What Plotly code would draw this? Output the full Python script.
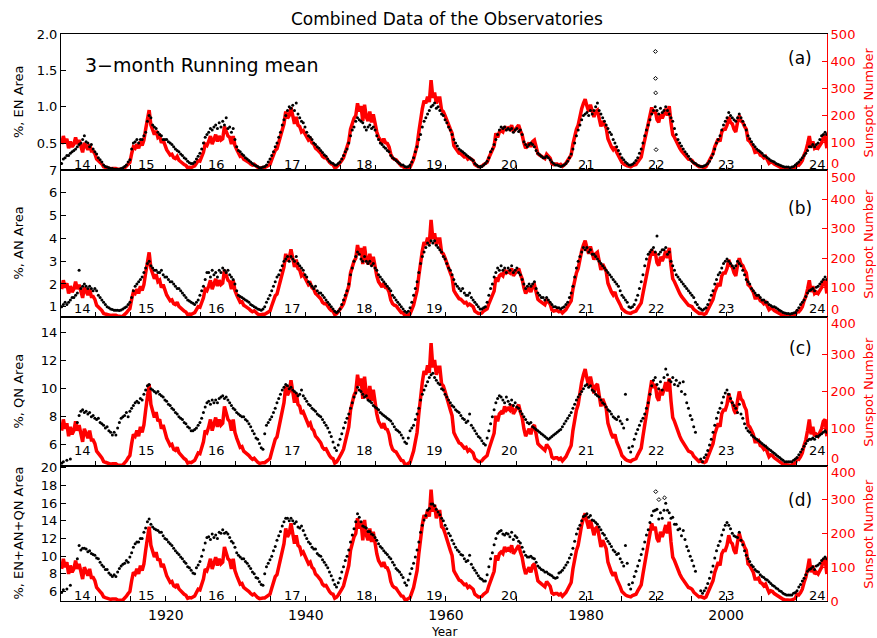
import plotly.graph_objects as go

START_YEAR = 1905

# Sunspot number, 3-month running mean, sampled quarterly (1905.0 -> 2014.5)
sunspot = [
    95, 125, 100, 115, 80, 105, 85, 95,          # 1905-1906
    120, 95, 110, 85, 65, 100, 85, 75,           # 1907-1908
    95, 70, 70, 60, 40, 32, 28, 22,              # 1909-1910
    12, 10, 8, 7, 5, 6, 7, 6,                    # 1911-1912
    3, 2, 2, 3, 8, 14, 22, 28,                   # 1913-1914
    60, 85, 80, 95, 80, 105, 90, 110,            # 1915-1916
    150, 180, 220, 165, 150, 130, 145, 120,      # 1917-1918
    125, 100, 110, 90, 75, 65, 55, 58,           # 1919-1920
    45, 42, 50, 36, 30, 26, 20, 17,              # 1921-1922
    8, 10, 9, 12, 15, 25, 35, 33,                # 1923-1924
    50, 65, 95, 90, 105, 125, 95, 115,           # 1925-1926
    130, 105, 125, 110, 115, 160, 140, 125,      # 1927-1928
    120, 95, 125, 90, 75, 60, 50, 52,            # 1929-1930
    40, 36, 33, 28, 22, 18, 21, 14,              # 1931-1932
    10, 7, 9, 9, 9, 12, 15, 20,                  # 1933-1934
    38, 55, 72, 78, 100, 125, 145, 170,          # 1935-1936
    215, 190, 200, 230, 200, 170, 195, 165,      # 1937-1938
    160, 140, 145, 135, 125, 110, 115, 100,      # 1939-1940
    95, 80, 75, 68, 62, 50, 45, 46,              # 1941-1942
    35, 28, 22, 20, 8, 11, 18, 25,               # 1943-1944
    35, 45, 65, 75, 105, 150, 175, 190,          # 1945-1946
    200, 245, 215, 235, 180, 240, 195, 180,      # 1947-1948
    215, 175, 205, 170, 140, 120, 110, 102,      # 1949-1950
    115, 100, 98, 85, 58, 45, 40, 38,            # 1951-1952
    30, 20, 15, 14, 5, 4, 7, 10,                 # 1953-1954
    25, 40, 65, 90, 140, 190, 225, 255,          # 1955-1956
    245, 270, 250, 330, 265, 285, 245, 265,      # 1957-1958
    265, 220, 215, 200, 180, 165, 150, 135,      # 1959-1960
    90, 80, 72, 62, 60, 55, 48, 50,              # 1961-1962
    40, 44, 38, 35, 20, 15, 12, 12,              # 1963-1964
    14, 20, 24, 28, 45, 60, 78, 88,              # 1965-1966
    135, 120, 140, 145, 140, 160, 150, 155,      # 1967-1968
    150, 165, 140, 150, 155, 165, 145, 130,      # 1969-1970
    100, 80, 90, 100, 85, 105, 110, 90,          # 1971-1972
    60, 55, 50, 48, 42, 58, 52, 44,              # 1973-1974
    24, 20, 22, 22, 18, 21, 14, 18,              # 1975-1976
    25, 35, 45, 55, 95, 125, 150, 165,           # 1977-1978
    205, 225, 245, 260, 235, 215, 240, 210,      # 1979-1980
    195, 215, 220, 190, 160, 180, 165, 155,      # 1981-1982
    115, 95, 85, 75, 85, 65, 50, 42,             # 1983-1984
    28, 22, 18, 15, 14, 12, 16, 18,              # 1985-1986
    20, 30, 38, 48, 80, 110, 140, 165,           # 1987-1988
    205, 230, 210, 220, 185, 175, 205, 190,      # 1989-1990
    205, 225, 200, 235, 175, 130, 120, 105,      # 1991-1992
    95, 80, 70, 62, 55, 45, 40, 38,              # 1993-1994
    35, 26, 22, 18, 12, 13, 12, 9,               # 1995-1996
    12, 24, 35, 45, 60, 85, 100, 115,            # 1997-1998
    105, 140, 150, 150, 165, 195, 175, 170,      # 1999-2000
    150, 140, 175, 200, 180, 175, 160, 150,      # 2001-2002
    110, 105, 95, 85, 65, 65, 68, 55,            # 2003-2004
    52, 45, 50, 38, 25, 30, 28, 22,              # 2005-2006
    18, 14, 10, 8, 5, 4, 3, 4,                   # 2007-2008
    2, 3, 6, 8, 20, 18, 25, 35,                  # 2009-2010
    55, 70, 95, 125, 85, 105, 80, 85,            # 2011-2012
    80, 90, 100, 120, 125, 80,                   # 2013-2014
]

# EN area (%), 3-month running mean, quarterly
en_area = [
    0.22, 0.28, 0.30, 0.33, 0.33, 0.36, 0.38, 0.40,   # 1905-1906
    0.42, 0.45, 0.48, 0.50, 0.55, 0.60, 0.52, 0.50,   # 1907-1908
    0.45, 0.48, 0.42, 0.38, 0.35, 0.30, 0.27, 0.24,   # 1909-1910
    0.20, 0.18, 0.17, 0.16, 0.15, 0.15, 0.14, 0.14,   # 1911-1912
    0.14, 0.14, 0.15, 0.16, 0.18, 0.20, 0.24, 0.27,   # 1913-1914
    0.42, 0.50, 0.52, 0.55, 0.50, 0.55, 0.55, 0.60,   # 1915-1916
    0.65, 0.80, 0.88, 0.85, 0.75, 0.72, 0.70, 0.65,   # 1917-1918
    0.62, 0.60, 0.55, 0.55, 0.55, 0.52, 0.50, 0.48,   # 1919-1920
    0.45, 0.42, 0.40, 0.38, 0.35, 0.33, 0.30, 0.28,   # 1921-1922
    0.25, 0.23, 0.22, 0.22, 0.24, 0.28, 0.32, 0.36,   # 1923-1924
    0.42, 0.50, 0.58, 0.62, 0.65, 0.70, 0.68, 0.72,   # 1925-1926
    0.75, 0.70, 0.78, 0.72, 0.80, 0.75, 0.85, 0.70,   # 1927-1928
    0.72, 0.65, 0.70, 0.55, 0.45, 0.40, 0.38, 0.35,   # 1929-1930
    0.33, 0.30, 0.28, 0.26, 0.24, 0.22, 0.20, 0.19,   # 1931-1932
    0.18, 0.16, 0.16, 0.17, 0.18, 0.20, 0.24, 0.28,   # 1933-1934
    0.33, 0.38, 0.45, 0.50, 0.58, 0.65, 0.75, 0.82,   # 1935-1936
    0.88, 0.95, 1.00, 0.98, 1.02, 0.95, 1.05, 0.90,   # 1937-1938
    0.85, 0.80, 0.78, 0.72, 0.65, 0.60, 0.58, 0.55,   # 1939-1940
    0.50, 0.48, 0.45, 0.43, 0.40, 0.37, 0.34, 0.32,   # 1941-1942
    0.28, 0.25, 0.23, 0.22, 0.20, 0.20, 0.22, 0.24,   # 1943-1944
    0.28, 0.33, 0.38, 0.42, 0.50, 0.60, 0.68, 0.72,   # 1945-1946
    0.80, 0.85, 0.82, 0.80, 0.78, 0.72, 0.68, 0.72,   # 1947-1948
    0.75, 0.70, 0.72, 0.68, 0.60, 0.55, 0.50, 0.48,   # 1949-1950
    0.45, 0.43, 0.40, 0.38, 0.33, 0.30, 0.28, 0.26,   # 1951-1952
    0.24, 0.22, 0.20, 0.20, 0.18, 0.17, 0.18, 0.20,   # 1953-1954
    0.24, 0.30, 0.38, 0.45, 0.55, 0.62, 0.72, 0.80,   # 1955-1956
    0.85, 0.90, 0.95, 1.00, 1.02, 1.05, 0.98, 1.00,   # 1957-1958
    0.95, 0.90, 0.88, 0.82, 0.78, 0.72, 0.68, 0.62,   # 1959-1960
    0.55, 0.50, 0.46, 0.42, 0.40, 0.38, 0.36, 0.34,   # 1961-1962
    0.32, 0.30, 0.28, 0.26, 0.22, 0.20, 0.18, 0.17,   # 1963-1964
    0.18, 0.20, 0.22, 0.25, 0.30, 0.38, 0.42, 0.48,   # 1965-1966
    0.55, 0.62, 0.68, 0.72, 0.70, 0.72, 0.68, 0.70,   # 1967-1968
    0.68, 0.70, 0.65, 0.68, 0.70, 0.66, 0.68, 0.62,   # 1969-1970
    0.52, 0.48, 0.45, 0.48, 0.50, 0.48, 0.45, 0.40,   # 1971-1972
    0.36, 0.34, 0.32, 0.30, 0.30, 0.32, 0.30, 0.27,   # 1973-1974
    0.24, 0.22, 0.20, 0.20, 0.19, 0.18, 0.19, 0.20,   # 1975-1976
    0.22, 0.25, 0.30, 0.35, 0.42, 0.50, 0.60, 0.68,   # 1977-1978
    0.75, 0.82, 0.88, 0.90, 0.92, 0.88, 0.95, 0.90,   # 1979-1980
    0.95, 1.00, 1.05, 0.95, 0.90, 0.85, 0.80, 0.75,   # 1981-1982
    0.70, 0.65, 0.62, 0.55, 0.50, 0.45, 0.40, 0.35,   # 1983-1984
    0.30, 0.27, 0.24, 0.22, 0.20, 0.20, 0.21, 0.23,   # 1985-1986
    0.26, 0.30, 0.36, 0.42, 0.50, 0.60, 0.68, 0.75,   # 1987-1988
    0.82, 0.90, 0.95, 1.00, 0.95, 0.90, 0.98, 0.92,   # 1989-1990
    0.95, 1.00, 0.95, 0.90, 0.85, 0.80, 0.70, 0.62,   # 1991-1992
    0.55, 0.50, 0.46, 0.42, 0.38, 0.35, 0.32, 0.28,   # 1993-1994
    0.25, 0.23, 0.22, 0.20, 0.19, 0.18, 0.18, 0.19,   # 1995-1996
    0.20, 0.22, 0.25, 0.30, 0.35, 0.42, 0.50, 0.55,   # 1997-1998
    0.60, 0.68, 0.75, 0.80, 0.85, 0.92, 0.88, 0.85,   # 1999-2000
    0.82, 0.80, 0.85, 0.90, 0.85, 0.80, 0.75, 0.68,   # 2001-2002
    0.60, 0.56, 0.52, 0.48, 0.45, 0.42, 0.40, 0.38,   # 2003-2004
    0.36, 0.33, 0.32, 0.30, 0.28, 0.26, 0.25, 0.24,   # 2005-2006
    0.22, 0.21, 0.20, 0.19, 0.18, 0.17, 0.17, 0.17,   # 2007-2008
    0.16, 0.17, 0.18, 0.20, 0.22, 0.24, 0.27, 0.30,   # 2009-2010
    0.33, 0.36, 0.40, 0.45, 0.45, 0.48, 0.45, 0.48,   # 2011-2012
    0.50, 0.55, 0.60, 0.62, 0.65, 0.62,               # 2013-2014
]

# AN area (%), quarterly
an_area = [
    1.00, 1.10, 1.20, 1.10, 1.20, 1.30, 1.40, 1.40,   # 1905-1906
    1.50, 1.60, 2.60, 1.80, 1.90, 2.00, 1.90, 1.80,   # 1907-1908
    1.90, 1.80, 1.70, 1.80, 1.70, 1.50, 1.40, 1.30,   # 1909-1910
    1.20, 1.10, 1.00, 0.95, 0.90, 0.88, 0.85, 0.85,   # 1911-1912
    0.85, 0.84, 0.86, 0.90, 0.95, 1.00, 1.10, 1.20,   # 1913-1914
    1.40, 1.70, 1.90, 2.00, 2.10, 2.20, 2.30, 2.50,   # 1915-1916
    2.70, 2.90, 3.00, 2.80, 2.70, 2.60, 2.60, 2.50,   # 1917-1918
    2.50, 2.60, 2.40, 2.30, 2.30, 2.20, 2.10, 2.10,   # 1919-1920
    2.00, 1.90, 1.80, 1.80, 1.70, 1.60, 1.50, 1.40,   # 1921-1922
    1.30, 1.25, 1.20, 1.15, 1.10, 1.20, 1.30, 1.50,   # 1923-1924
    1.70, 1.90, 2.20, 2.50, 2.50, 2.30, 2.60, 2.40,   # 1925-1926
    2.50, 2.30, 2.60, 2.50, 2.70, 2.60, 2.50, 2.60,   # 1927-1928
    2.40, 2.30, 2.20, 2.00, 1.70, 1.50, 1.45, 1.40,   # 1929-1930
    1.35, 1.30, 1.25, 1.20, 1.10, 1.05, 1.00, 0.95,   # 1931-1932
    0.90, 0.88, 0.85, 0.90, 1.00, 1.20, 1.35, 1.50,   # 1933-1934
    1.70, 1.90, 2.10, 2.30, 2.40, 2.60, 2.80, 3.00,   # 1935-1936
    3.10, 3.20, 3.00, 3.20, 3.10, 3.00, 3.20, 2.90,   # 1937-1938
    2.80, 2.70, 2.60, 2.40, 2.30, 2.10, 2.00, 1.90,   # 1939-1940
    1.80, 1.90, 1.70, 1.60, 1.60, 1.50, 1.40, 1.30,   # 1941-1942
    1.20, 1.10, 1.00, 0.90, 0.80, 0.75, 0.80, 0.90,   # 1943-1944
    1.10, 1.30, 1.50, 1.70, 2.00, 2.40, 2.70, 3.00,   # 1945-1946
    3.20, 3.40, 3.30, 3.10, 3.00, 3.20, 3.00, 2.90,   # 1947-1948
    3.00, 2.80, 2.90, 2.70, 2.60, 2.40, 2.30, 2.20,   # 1949-1950
    2.10, 2.00, 1.90, 1.80, 1.70, 1.50, 1.40, 1.30,   # 1951-1952
    1.20, 1.10, 1.00, 0.90, 0.80, 0.75, 0.80, 0.95,   # 1953-1954
    1.20, 1.50, 1.80, 2.10, 2.50, 2.90, 3.20, 3.40,   # 1955-1956
    3.60, 3.80, 3.70, 3.90, 3.80, 3.90, 3.70, 3.60,   # 1957-1958
    3.50, 3.40, 3.20, 3.10, 2.90, 2.70, 2.60, 2.40,   # 1959-1960
    2.20, 2.00, 1.90, 1.80, 1.70, 1.80, 1.60, 1.50,   # 1961-1962
    1.50, 1.60, 1.40, 1.30, 1.20, 1.10, 1.00, 0.90,   # 1963-1964
    0.90, 0.95, 1.00, 1.20, 1.50, 1.80, 2.00, 2.30,   # 1965-1966
    2.50, 2.70, 2.60, 2.80, 2.60, 2.70, 2.50, 2.70,   # 1967-1968
    2.60, 2.80, 2.50, 2.60, 2.70, 2.50, 2.40, 2.20,   # 1969-1970
    2.00, 1.80, 1.90, 2.00, 1.90, 2.00, 2.10, 1.80,   # 1971-1972
    1.60, 1.50, 1.40, 1.40, 1.30, 1.40, 1.30, 1.20,   # 1973-1974
    1.10, 1.00, 1.00, 0.95, 0.95, 0.90, 0.95, 1.00,   # 1975-1976
    1.10, 1.20, 1.40, 1.60, 1.90, 2.30, 2.70, 3.00,   # 1977-1978
    3.20, 3.40, 3.60, 3.50, 3.60, 3.40, 3.50, 3.30,   # 1979-1980
    3.30, 3.20, 3.10, 3.00, 2.90, 2.80, 2.70, 2.60,   # 1981-1982
    2.50, 2.40, 2.30, 2.20, 2.10, 2.00, 1.90, 1.70,   # 1983-1984
    1.50, 1.40, 1.30, 1.20, 1.00, 0.95, 1.00, 1.10,   # 1985-1986
    1.30, 1.50, 1.80, 2.10, 2.40, 2.80, 3.10, 3.30,   # 1987-1988
    3.40, 3.50, 3.60, 3.40, 4.10, 3.30, 3.40, 3.50,   # 1989-1990
    3.50, 3.60, 3.30, 3.40, 3.00, 2.80, 2.60, 2.40,   # 1991-1992
    2.30, 2.20, 2.10, 2.00, 1.90, 1.80, 1.70, 1.60,   # 1993-1994
    1.50, 1.40, 1.20, 1.10, 0.95, 0.90, 0.85, 0.90,   # 1995-1996
    0.95, 1.10, 1.30, 1.50, 1.70, 2.00, 2.20, 2.40,   # 1997-1998
    2.50, 2.70, 2.90, 3.00, 3.10, 3.00, 2.90, 2.80,   # 1999-2000
    2.70, 2.80, 3.00, 2.90, 2.80, 2.60, 2.40, 2.20,   # 2001-2002
    2.10, 2.00, 1.80, 1.70, 1.60, 1.50, 1.50, 1.40,   # 2003-2004
    1.30, 1.30, 1.20, 1.20, 1.10, 1.05, 1.00, 1.00,   # 2005-2006
    0.95, 0.90, 0.85, 0.80, 0.75, 0.72, 0.70, 0.70,   # 2007-2008
    0.68, 0.70, 0.72, 0.75, 0.85, 0.95, 1.10, 1.20,   # 2009-2010
    1.30, 1.45, 1.60, 1.70, 1.75, 1.80, 1.70, 1.85,   # 2011-2012
    1.90, 2.00, 2.10, 2.20, 2.30, 2.20,               # 2013-2014
]

# QN area (%), quarterly (None = no data)
qn_area = [
    4.7, 4.8, None, 4.9, None, 5.0, None, None,       # 1905-1906
    None, 7.6, 8.1, 8.4, 8.5, 8.3, 8.4, 8.2,          # 1907-1908
    8.3, 8.0, 8.1, 7.9, 7.8, 7.9, 7.6, 7.5,           # 1909-1910
    7.4, 7.2, 7.3, 7.0, 6.9, 6.7, 6.9, 6.7,           # 1911-1912
    7.2, 7.6, 7.9, 8.0, 8.1, 8.3, 8.0, 8.4,           # 1913-1914
    8.6, 8.8, 9.0, 9.1, 9.0, 9.3, 9.2, 9.6,           # 1915-1916
    9.9, 10.2, 10.3, 10.0, 9.9, 9.8, 9.7, 9.8,        # 1917-1918
    9.6, 9.5, 9.4, 9.2, 9.1, 8.9, 8.8, 8.6,           # 1919-1920
    8.5, 8.3, 8.2, 8.0, 7.9, 7.8, 7.6, 7.5,           # 1921-1922
    7.3, 7.2, 7.0, 7.0, 7.1, 7.2, 7.4, 7.6,           # 1923-1924
    7.9, 8.3, 8.7, 9.0, 9.1, 8.9, 9.2, 9.0,           # 1925-1926
    9.2, 9.0, 9.3, 9.4, 9.5, 9.3, 9.4, 9.2,           # 1927-1928
    9.0, 8.8, 8.6, 8.5, 8.3, 8.2, 8.1, 8.0,           # 1929-1930
    8.0, 7.8, 7.7, 7.5, 7.3, 7.0, 6.8, 6.5,           # 1931-1932
    6.4, 6.1, 5.8, 5.7, 6.8, 7.4, 7.6, 7.8,           # 1933-1934
    8.0, 8.3, 8.6, 9.0, 9.3, 9.6, 9.9, 10.1,          # 1935-1936
    10.3, 10.2, 10.0, 10.1, 9.9, 9.8, 9.7, 9.5,       # 1937-1938
    9.6, 9.9, 9.5, 9.3, 9.1, 8.9, 8.8, 8.6,           # 1939-1940
    8.5, 8.4, 8.2, 8.1, 8.0, 7.8, 7.6, 7.4,           # 1941-1942
    7.2, 6.9, 6.6, 6.2, 5.8, 5.6, 6.0, 6.4,           # 1943-1944
    6.8, 7.2, 7.6, 7.9, 8.2, 8.6, 9.0, 9.4,           # 1945-1946
    9.7, 10.1, 9.9, 9.8, 9.6, 9.4, 9.5, 9.2,          # 1947-1948
    9.1, 9.0, 8.8, 8.7, 8.6, 8.5, 8.3, 8.2,           # 1949-1950
    8.1, 8.0, 7.9, 7.8, 7.7, 7.5, 7.3, 7.1,           # 1951-1952
    7.0, 6.9, 6.7, 6.5, 6.2, 6.1, 6.5, 7.0,           # 1953-1954
    7.2, 7.4, 7.8, 8.2, 8.6, 9.2, 9.6, 9.9,           # 1955-1956
    10.2, 10.5, 10.8, 11.0, 11.1, 10.8, 10.6, 10.4,   # 1957-1958
    10.3, 10.0, 9.9, 9.6, 9.4, 9.2, 9.0, 8.8,         # 1959-1960
    8.7, 8.5, 8.4, 8.3, 8.1, 7.9, 7.8, 7.6,           # 1961-1962
    7.7, 8.2, 7.4, 7.2, 7.0, 6.8, 6.6, 6.5,           # 1963-1964
    6.3, 6.1, 6.0, 6.5, 7.0, 7.5, 8.0, 8.5,           # 1965-1966
    9.0, 9.3, 9.5, 9.4, 9.2, 9.0, 9.4, 9.1,           # 1967-1968
    8.9, 9.2, 8.8, 9.0, 8.7, 8.6, 8.4, 8.2,           # 1969-1970
    8.0, 7.8, 7.6, 7.5, 7.6, 7.3, 7.2, 7.1,           # 1971-1972
    7.0, 6.9, 6.8, 6.7, 6.6, 6.5, 6.4, 6.5,           # 1973-1974
    6.6, 6.7, 6.8, 6.9, 7.0, 7.1, 7.3, 7.5,           # 1975-1976
    7.7, 7.9, 8.1, 8.3, 8.6, 8.9, 9.2, 9.4,           # 1977-1978
    9.6, 9.8, 10.0, 10.2, 10.3, 10.1, 10.2, 9.9,      # 1979-1980
    9.8, 9.6, 9.5, 9.4, 9.2, 9.0, 8.9, 8.7,           # 1981-1982
    8.5, 8.4, 8.2, 8.0, 7.9, 7.8, 8.0, 7.7,           # 1983-1984
    7.5, 7.2, 9.6, 7.8, 5.8, 5.5, 5.9, 6.4,           # 1985-1986
    6.8, 7.1, 7.4, 7.7, 7.9, 8.2, 8.6, 9.0,           # 1987-1988
    9.6, 10.2, 10.6, 10.8, 10.3, 10.0, 10.5, 9.9,     # 1989-1990
    10.8, 11.4, 11.0, 10.6, 10.5, 10.8, 10.3, 10.6,   # 1991-1992
    10.2, 10.4, 9.8, 10.5, 9.6, 9.0, 8.6, 8.1,        # 1993-1994
    7.8, 7.3, 6.9, None, None, 5.0, 4.8, 5.1,         # 1995-1996
    5.3, 5.6, 6.0, 6.4, 6.9, 7.4, 7.9, 8.3,           # 1997-1998
    8.6, 9.0, 9.4, 9.7, 9.9, 9.6, 9.3, 9.0,           # 1999-2000
    8.8, 8.6, 8.3, 8.9, 8.2, 7.9, 7.5, 7.2,           # 2001-2002
    7.0, 6.9, 6.7, 6.6, 6.5, 6.4, 6.3, 6.2,           # 2003-2004
    6.1, 6.0, 5.9, 5.8, 5.7, 5.6, 5.5, 5.4,           # 2005-2006
    5.3, 5.2, 5.1, 5.0, 4.9, 4.8, 4.8, 4.8,           # 2007-2008
    4.8, 4.8, 4.9, 5.0, 5.1, 5.3, 5.5, 5.7,           # 2009-2010
    5.9, 6.1, 6.3, 6.4, 6.4, 6.5, 6.4, 6.6,           # 2011-2012
    6.6, 6.7, 6.8, 6.9, 7.0, 6.9,                     # 2013-2014
]

# EN+AN+QN area (%), quarterly (None = no data)
total_area = [
    5.9, 6.2, None, 6.3, None, 6.7, None, None,       # 1905-1906
    None, 9.7, 11.2, 10.7, 10.9, 10.9, 10.8, 10.5,    # 1907-1908
    10.6, 10.3, 10.2, 10.1, 9.8, 9.7, 9.3, 9.0,       # 1909-1910
    8.8, 8.5, 8.5, 8.1, 7.9, 7.7, 7.9, 7.7,           # 1911-1912
    8.2, 8.6, 8.9, 9.1, 9.2, 9.5, 9.3, 9.9,           # 1913-1914
    10.4, 11.0, 11.4, 11.6, 11.6, 12.0, 12.0, 12.7,   # 1915-1916
    13.2, 13.9, 14.2, 13.6, 13.3, 13.1, 13.0, 12.9,   # 1917-1918
    12.7, 12.7, 12.3, 12.0, 11.9, 11.6, 11.4, 11.2,   # 1919-1920
    10.9, 10.6, 10.4, 10.2, 9.9, 9.7, 9.4, 9.2,       # 1921-1922
    8.8, 8.7, 8.4, 8.1, 8.0, 8.7, 9.0, 9.4,           # 1923-1924
    10.0, 10.7, 11.5, 12.1, 12.2, 11.9, 12.5, 12.1,   # 1925-1926
    12.4, 12.0, 12.7, 12.6, 13.0, 12.6, 12.7, 12.5,   # 1927-1928
    12.1, 11.7, 11.5, 11.0, 10.4, 10.1, 9.9, 9.7,     # 1929-1930
    9.7, 9.4, 9.2, 8.9, 8.6, 8.2, 8.0, 7.6,           # 1931-1932
    7.5, 7.1, 6.8, 6.7, 8.0, 8.8, 9.2, 9.6,           # 1933-1934
    10.0, 10.6, 11.1, 11.8, 12.3, 12.8, 13.4, 13.9,   # 1935-1936
    14.3, 14.3, 14.0, 14.3, 14.0, 13.7, 13.9, 13.3,   # 1937-1938
    13.2, 13.4, 12.9, 12.4, 12.0, 11.6, 11.4, 11.0,   # 1939-1940
    10.8, 10.8, 10.3, 10.1, 10.0, 9.6, 9.3, 9.0,      # 1941-1942
    8.7, 8.2, 7.8, 7.3, 6.8, 6.5, 7.0, 7.5,           # 1943-1944
    8.2, 8.8, 9.5, 10.0, 10.7, 11.6, 12.4, 13.1,      # 1945-1946
    13.9, 14.8, 14.4, 13.9, 13.4, 13.3, 13.2, 12.8,   # 1947-1948
    12.8, 12.5, 12.4, 12.1, 11.8, 11.4, 11.1, 10.9,   # 1949-1950
    10.6, 10.4, 10.2, 9.9, 9.7, 9.3, 9.0, 8.6,        # 1951-1952
    8.4, 8.2, 7.9, 7.6, 7.0, 6.7, 7.3, 8.0,           # 1953-1954
    8.6, 9.2, 9.9, 10.7, 11.6, 12.7, 13.5, 14.1,      # 1955-1956
    14.6, 15.2, 15.4, 15.9, 15.9, 15.7, 15.3, 15.0,   # 1957-1958
    14.7, 14.3, 14.0, 13.5, 13.1, 12.6, 12.3, 11.8,   # 1959-1960
    11.4, 11.0, 10.7, 10.5, 10.2, 10.1, 9.7, 9.4,     # 1961-1962
    9.5, 10.1, 9.1, 8.7, 8.4, 8.1, 7.8, 7.5,          # 1963-1964
    7.4, 7.2, 7.2, 7.9, 8.8, 9.7, 10.4, 11.3,         # 1965-1966
    12.0, 12.6, 12.8, 12.9, 12.5, 12.4, 12.6, 12.5,   # 1967-1968
    12.2, 12.7, 11.9, 12.3, 12.1, 11.7, 11.5, 11.0,   # 1969-1970
    10.5, 10.1, 9.9, 9.9, 10.0, 9.8, 9.7, 9.3,        # 1971-1972
    8.9, 8.7, 8.5, 8.4, 8.2, 8.2, 8.0, 7.9,           # 1973-1974
    7.8, 7.6, 7.5, 7.6, 8.1, 8.2, 8.4, 8.7,           # 1975-1976
    9.0, 9.3, 9.8, 10.2, 10.9, 11.7, 12.5, 13.1,      # 1977-1978
    13.5, 14.0, 14.5, 14.6, 14.8, 14.4, 14.6, 14.1,   # 1979-1980
    14.0, 13.8, 13.6, 13.3, 13.0, 12.6, 12.4, 12.0,   # 1981-1982
    11.7, 11.4, 11.1, 10.7, 10.5, 10.2, 10.3, 9.7,    # 1983-1984
    9.3, 8.9, 11.2, 9.2, 6.8, 6.3, 7.0, 7.7,          # 1985-1986
    8.3, 8.9, 9.5, 10.2, 10.8, 11.6, 12.4, 13.0,      # 1987-1988
    13.8, 14.6, 15.1, 15.2, 15.3, 14.2, 14.9, 14.3,   # 1989-1990
    15.2, 16.0, 15.2, 14.9, 14.3, 14.4, 13.6, 13.6,   # 1991-1992
    13.0, 13.1, 12.3, 12.9, 11.9, 11.1, 10.6, 10.0,   # 1993-1994
    9.5, 8.9, 8.3, None, None, 6.1, 5.8, 6.1,         # 1995-1996
    6.4, 6.9, 7.5, 8.2, 8.9, 9.8, 10.6, 11.2,         # 1997-1998
    11.7, 12.4, 13.0, 13.5, 13.8, 13.5, 13.1, 12.6,   # 1999-2000
    12.3, 12.2, 12.1, 12.7, 11.8, 11.3, 10.6, 10.1,   # 2001-2002
    9.7, 9.4, 9.0, 8.8, 8.5, 8.3, 8.2, 7.9,           # 2003-2004
    7.7, 7.6, 7.4, 7.3, 7.1, 6.9, 6.7, 6.6,           # 2005-2006
    6.4, 6.3, 6.1, 6.0, 5.8, 5.7, 5.6, 5.6,           # 2007-2008
    5.6, 5.6, 5.8, 5.9, 6.1, 6.5, 6.8, 7.2,           # 2009-2010
    7.5, 7.9, 8.3, 8.5, 8.6, 8.8, 8.5, 8.9,           # 2011-2012
    9.0, 9.2, 9.5, 9.7, 9.9, 9.7,                     # 2013-2014
]

# isolated outlying 3-month values
en_outlier_years = [1989.9, 1989.92, 1989.94, 1990.0]
en_outlier_vals = [1.76, 1.39, 1.19, 0.41]
total_outlier_years = [1989.95, 1990.4, 1991.2]
total_outlier_vals = [17.3, 16.4, 16.6]

cycle_numbers = ["14", "15", "16", "17", "18", "19", "20", "21", "22", "23", "24"]
cycle_label_years = [1908.1, 1917.3, 1927.3, 1938.1, 1948.4, 1958.3,
                     1969.1, 1980.1, 1990.1, 2000.1, 2013.1]

x_tick_years = list(range(1910, 2011, 5))
x_label_years = [1920, 1940, 1960, 1980, 2000]

# ---------------------------------------------------------------------------
n = min(len(sunspot), len(en_area), len(an_area), len(qn_area), len(total_area))
t = [START_YEAR + (i + 0.5) / 4 for i in range(n)]

FONT = "DejaVu Sans"
RED = "#ff0000"
X_RANGE = [1905.04, 2014.4]

panels = [
    dict(vals=en_area, title="%, EN Area", rng=[0.13, 2.0], ticks=[0.5, 1.0, 1.5, 2.0],
         fmt=".1f", sn_rng=[0, 500], sn_ticks=[0, 100, 200, 300, 400, 500],
         dom=[0.7601, 1.0], label="(a)", label_y=0.9577, cyc=0.037,
         out_x=en_outlier_years, out_y=en_outlier_vals),
    dict(vals=an_area, title="%, AN Area", rng=[0.55, 7.0], ticks=[1, 2, 3, 4, 5, 6, 7],
         fmt="d", sn_rng=[0, 500], sn_ticks=[0, 100, 200, 300, 400, 500],
         dom=[0.5009, 0.7601], label="(b)", label_y=0.6931, cyc=0.061,
         out_x=[], out_y=[]),
    dict(vals=qn_area, title="%, QN Area", rng=[4.5, 15.1], ticks=[6, 8, 10, 12, 14],
         fmt="d", sn_rng=[0, 400], sn_ticks=[0, 100, 200, 300, 400],
         dom=[0.2381, 0.5009], label="(c)", label_y=0.4462, cyc=0.107,
         out_x=[], out_y=[]),
    dict(vals=total_area, title="%, EN+AN+QN Area", rng=[4.93, 20.2],
         ticks=[6, 8, 10, 12, 14, 16, 18, 20],
         fmt="d", sn_rng=[0, 400], sn_ticks=[0, 100, 200, 300, 400],
         dom=[0.0, 0.2381], label="(d)", label_y=0.1781, cyc=0.044,
         out_x=total_outlier_years, out_y=total_outlier_vals),
]

fig = go.Figure()
layout = {}
annotations = []
last = len(panels) - 1

for k, p in enumerate(panels):
    xn = k + 1
    xref = "x" if xn == 1 else f"x{xn}"
    xkey = "xaxis" if xn == 1 else f"xaxis{xn}"
    b = 2 * k + 1
    a = 2 * k + 2
    bref = "y" if b == 1 else f"y{b}"
    bkey = "yaxis" if b == 1 else f"yaxis{b}"
    aref = f"y{a}"
    akey = f"yaxis{a}"

    # red sunspot number on the base (right) axis
    fig.add_trace(go.Scatter(x=t, y=sunspot[:n], mode="lines",
                             line=dict(color=RED, width=3.5), xaxis=xref, yaxis=bref,
                             showlegend=False, hoverinfo="skip"))
    # black area dots on overlaying (left) axis
    fig.add_trace(go.Scatter(x=t, y=p["vals"][:n], mode="markers",
                             marker=dict(color="black", size=3), xaxis=xref, yaxis=aref,
                             showlegend=False, hoverinfo="skip"))
    if p["out_x"]:
        fig.add_trace(go.Scatter(x=p["out_x"], y=p["out_y"], mode="markers",
                                 marker=dict(color="black", size=3, symbol="diamond-open"),
                                 xaxis=xref, yaxis=aref, showlegend=False,
                                 hoverinfo="skip"))

    is_bottom = k == last
    layout[xkey] = dict(
        domain=[0, 1], anchor=bref, range=X_RANGE, showgrid=False, zeroline=False,
        showline=True, linecolor="black", linewidth=1, mirror=True,
        ticks="inside", ticklen=5, tickcolor="black",
        tickvals=x_tick_years,
        ticktext=[str(v) if v in x_label_years else "" for v in x_tick_years],
        showticklabels=is_bottom, tickfont=dict(family=FONT, size=14, color="black"),
        ticklabelstandoff=1,
    )
    if xn > 1:
        layout[xkey]["matches"] = "x"

    # right-axis labels: shared boundary labels are drawn as offset annotations
    sn_text = [str(v) for v in p["sn_ticks"]]
    boundary = []
    if k < last:
        boundary.append((sn_text[0], p["dom"][0], 7))
        sn_text[0] = ""
    if k > 0:
        boundary.append((sn_text[-1], p["dom"][1], -7))
        sn_text[-1] = ""
    for txt, yy, shift in boundary:
        annotations.append(dict(text=txt, xref="paper", yref="paper", x=1.0, y=yy,
                                xanchor="left", yanchor="middle", xshift=2, yshift=shift,
                                showarrow=False, font=dict(family=FONT, size=13, color=RED)))

    layout[bkey] = dict(
        domain=p["dom"], anchor=xref, side="right", range=p["sn_rng"],
        tickvals=p["sn_ticks"], ticktext=sn_text, showgrid=False, zeroline=False,
        showline=True, linecolor=RED, linewidth=1, ticks="inside", ticklen=5,
        tickcolor=RED, tickfont=dict(family=FONT, size=13, color=RED),
    )
    layout[akey] = dict(
        overlaying=bref, anchor=xref, side="left", range=p["rng"],
        tickvals=p["ticks"],
        ticktext=[format(v, ".1f") if p["fmt"] == ".1f" else str(int(v)) for v in p["ticks"]],
        showgrid=False, zeroline=False, showline=True, linecolor="black", linewidth=1,
        ticks="inside", ticklen=5, tickcolor="black",
        tickfont=dict(family=FONT, size=13, color="black"),
    )

    mid = (p["dom"][0] + p["dom"][1]) / 2
    annotations.append(dict(text=p["title"], xref="paper", yref="paper", x=-0.0561, y=mid,
                            textangle=-90, showarrow=False, xanchor="center", yanchor="middle",
                            font=dict(family=FONT, size=13, color="black")))
    annotations.append(dict(text="Sunspot Number", xref="paper", yref="paper", x=1.054, y=mid,
                            textangle=-90, showarrow=False, xanchor="center", yanchor="middle",
                            font=dict(family=FONT, size=13, color=RED)))
    annotations.append(dict(text=p["label"], xref="paper", yref="paper", x=0.9648,
                            y=p["label_y"], showarrow=False, xanchor="center",
                            yanchor="middle", font=dict(family=FONT, size=17, color="black")))
    for cn, cy in zip(cycle_numbers, cycle_label_years):
        annotations.append(dict(text=cn, xref=xref, yref=f"{bref} domain", x=cy, y=p["cyc"],
                                showarrow=False, xanchor="center", yanchor="middle",
                                font=dict(family=FONT, size=13, color="black")))

annotations.append(dict(text="3\u2212month Running mean", xref="paper", yref="paper",
                        x=0.1847, y=0.9453, showarrow=False, xanchor="center",
                        yanchor="middle", font=dict(family=FONT, size=19, color="black")))
annotations.append(dict(text="Combined Data of the Observatories", xref="paper", yref="paper",
                        x=0.504, y=1.0265, showarrow=False, xanchor="center", yanchor="middle",
                        font=dict(family=FONT, size=17, color="black")))
annotations.append(dict(text="Year", xref="paper", yref="paper", x=0.5, y=-0.0547,
                        showarrow=False, xanchor="center", yanchor="middle",
                        font=dict(family=FONT, size=12, color="black")))

fig.update_layout(
    width=877, height=638,
    margin=dict(l=61, r=50, t=34, b=37),
    paper_bgcolor="white", plot_bgcolor="white",
    showlegend=False, annotations=annotations,
    font=dict(family=FONT),
    **layout,
)

fig.write_html("out.html")
